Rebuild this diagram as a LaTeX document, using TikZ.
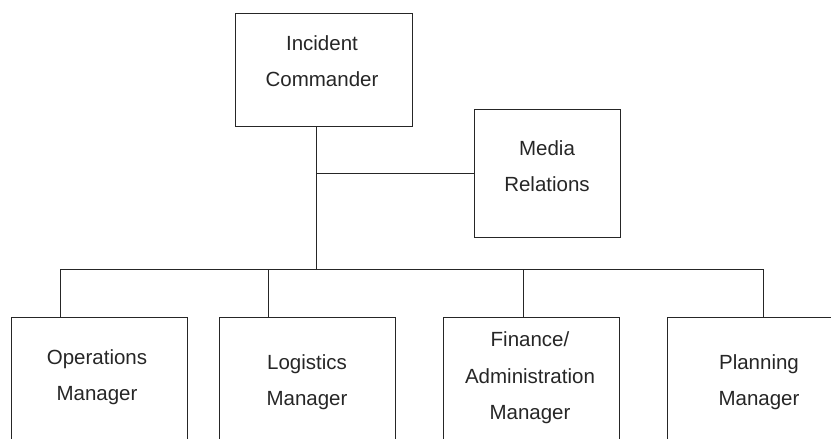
\documentclass[tikz,border=0pt]{standalone}
\usepackage{fontspec}
\setmainfont{Liberation Sans}
\usepackage{tikz}

\begin{document}
\begin{tikzpicture}[x=1pt, y=-1pt]
\tikzset{boite/.style={draw=black!85, line width=1pt, minimum width=176pt, inner sep=0pt},
         texte/.style={align=center, font=\fontsize{20.5}{36.5}\selectfont, text=black!85}}
\useasboundingbox (0,0) rectangle (831,439);
\clip (0,0) rectangle (831,439);
\node[boite, minimum width=177pt, minimum height=113pt] (IC) at (323.5,69.5) {};
\node[boite, minimum width=146pt, minimum height=128pt] (MR) at (547,173) {};
\node[boite, minimum height=163pt] (B1) at (99.5,398.5) {};
\node[boite, minimum height=163pt] (B2) at (307,398.5) {};
\node[boite, minimum height=163pt] (B3) at (531,398.5) {};
\node[boite, minimum height=163pt] (B4) at (755,398.5) {};
\node[texte] (T0) at (322,61) {Incident\\Commander};
\node[texte] (T5) at (547,166) {Media\\Relations};
\node[texte] (T1) at (97,377) {Operations\\Manager};
\node[texte] (T2) at (307,382) {Logistics\\Manager};
\node[texte] (T3) at (530,378) {Finance/\\Administration\\Manager};
\node[texte] (T4) at (759,382) {Planning\\Manager};
\coordinate (J0) at (316,269);
\coordinate (J1) at (60,269);
\coordinate (J2) at (268,269);
\coordinate (J3) at (523,269);
\coordinate (J4) at (763,269);
\draw[black!85, line width=1pt] (IC.south -| J0) -- (J0);
\draw[black!85, line width=1pt] (MR.west) -- (MR.west -| J0);
\draw[black!85, line width=1pt] (J1) -- (J4);
\draw[black!85, line width=1pt] (J1) -- (J1 |- B1.north);
\draw[black!85, line width=1pt] (J2) -- (J2 |- B2.north);
\draw[black!85, line width=1pt] (J3) -- (J3 |- B3.north);
\draw[black!85, line width=1pt] (J4) -- (J4 |- B4.north);
\end{tikzpicture}
\end{document}
